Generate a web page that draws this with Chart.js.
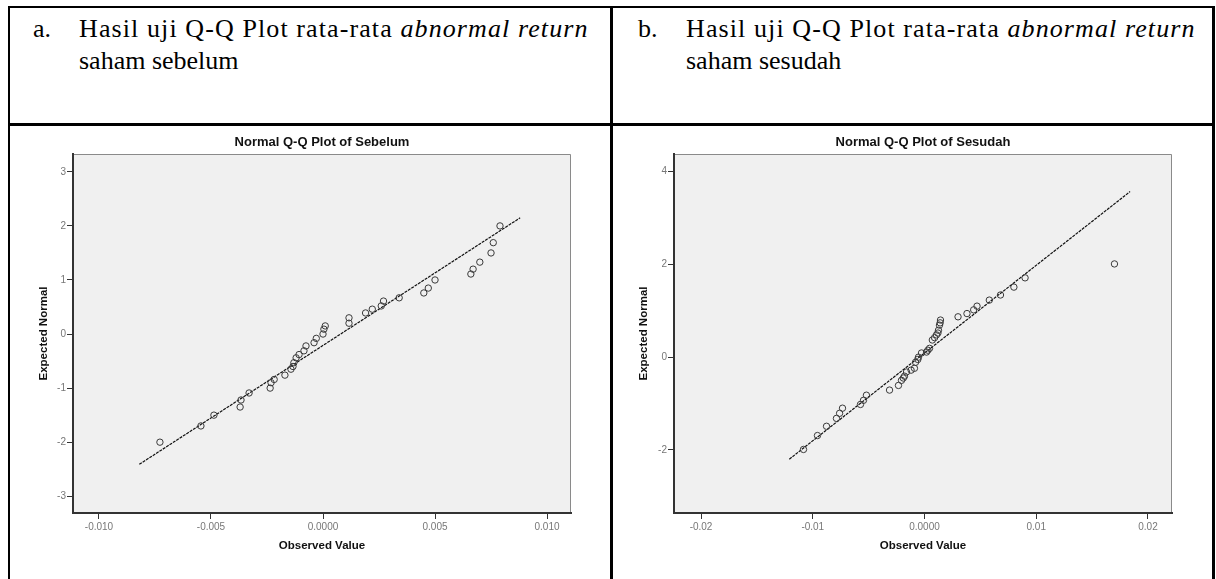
<!DOCTYPE html>
<html>
<head>
<meta charset="utf-8">
<script src="https://cdn.jsdelivr.net/npm/chart.js@4.4.1/dist/chart.umd.min.js"></script>
<style>
  html, body { margin: 0; padding: 0; background: #fff; }
  body { width: 1216px; height: 579px; position: relative; overflow: hidden; font-family: "Liberation Serif", "Times New Roman", serif; }
  .rule { position: absolute; background: #000; }
  .txt { position: absolute; font-size: 26px; line-height: 32px; color: #000; white-space: nowrap; }
  .wide { letter-spacing: 1.1px; }
  .box { position: absolute; }
  canvas { display: block; }
</style>
</head>
<body>
<!-- table rules -->
<div class="rule" style="left:8px;top:6px;width:1207px;height:2px"></div>
<div class="rule" style="left:8px;top:6px;width:2px;height:573px"></div>
<div class="rule" style="left:610px;top:6px;width:3px;height:573px"></div>
<div class="rule" style="left:1212px;top:6px;width:3px;height:573px"></div>
<div class="rule" style="left:8px;top:123px;width:1207px;height:3px"></div>

<div class="txt" style="left:33px;top:13px">a.</div>
<div class="txt wide" style="left:79px;top:13px">Hasil uji Q-Q Plot rata-rata <i>abnormal return</i></div>
<div class="txt" style="left:79px;top:45px">saham sebelum</div>
<div class="txt" style="left:638px;top:13px">b.</div>
<div class="txt wide" style="left:686px;top:13px">Hasil uji Q-Q Plot rata-rata <i>abnormal return</i></div>
<div class="txt" style="left:686px;top:45px">saham sesudah</div>

<div class="box" style="left:11px;top:126px"><canvas id="qqBefore" width="598" height="453"></canvas></div>
<div class="box" style="left:614px;top:126px"><canvas id="qqAfter" width="598" height="453"></canvas></div>

<script>
// Sebelum (before)
const beforeObserved = [-0.00728, -0.00545, -0.00487, -0.0037, -0.00366, -0.0033, -0.00236, -0.00232, -0.00218, -0.0017,
  -0.00143, -0.00134, -0.0013, -0.0012, -0.00107, -0.00085, -0.00076, -0.0004, -0.0003, 0.0, 0.00004, 0.0001,
  0.00116, 0.00116, 0.0019, 0.0022, 0.0026, 0.0027, 0.0034, 0.0045, 0.0047, 0.0050, 0.0066, 0.0067, 0.0070,
  0.0075, 0.0076, 0.0079];
const beforeExpected = [-2.0, -1.70, -1.5, -1.35, -1.22, -1.09, -1.0, -0.9, -0.84, -0.76,
  -0.65, -0.6, -0.53, -0.44, -0.38, -0.31, -0.22, -0.16, -0.08, 0.0, 0.09, 0.15,
  0.20, 0.30, 0.39, 0.46, 0.52, 0.61, 0.67, 0.76, 0.85, 1.0, 1.11, 1.2, 1.33,
  1.5, 1.69, 2.0];
const beforeLineX = [-0.0082, 0.0088];
const beforeLineY = [-2.41, 2.15];
const beforeXTicks = [-0.010, -0.005, 0, 0.005, 0.010];
const beforeXLabels = ['-0.010', '-0.005', '0.0000', '0.005', '0.010'];
const beforeYTicks = [-3, -2, -1, 0, 1, 2, 3];
const beforeYLabels = ['-3', '-2', '-1', '0', '1', '2', '3'];

// Sesudah (after)
const afterObserved = [-0.01083, -0.00958, -0.00877, -0.00788, -0.0076, -0.00734, -0.00573, -0.00546, -0.0052,
  -0.00313, -0.00233, -0.00206, -0.0019, -0.00179, -0.00161, -0.0012, -0.0009, -0.0008, -0.0006, -0.00054,
  -0.00027, 0.00018, 0.0003, 0.00045, 0.0007, 0.0009, 0.00107, 0.0012, 0.00125, 0.00134, 0.0014, 0.00143,
  0.0030, 0.0038, 0.0044, 0.0047, 0.0058, 0.0068, 0.0080, 0.0090, 0.0170];
const afterExpected = [-1.99, -1.69, -1.49, -1.32, -1.21, -1.10, -1.02, -0.93, -0.82,
  -0.71, -0.61, -0.50, -0.45, -0.41, -0.32, -0.28, -0.24, -0.11, -0.05, 0.0,
  0.09, 0.11, 0.15, 0.19, 0.37, 0.42, 0.48, 0.52, 0.58, 0.69, 0.74, 0.80,
  0.87, 0.94, 1.02, 1.10, 1.23, 1.34, 1.51, 1.71, 2.01];
const afterLineX = [-0.0121, 0.0184];
const afterLineY = [-2.20, 3.57];
const afterXTicks = [-0.02, -0.01, 0, 0.01, 0.02];
const afterXLabels = ['-0.02', '-0.01', '0.0000', '0.01', '0.02'];
const afterYTicks = [-2, 0, 2, 4];
const afterYLabels = ['-2', '0', '2', '4'];

const SANS = '"Liberation Sans", Arial, sans-serif';

const plotFrame = {
  id: 'plotFrame',
  beforeDraw(chart) {
    const { ctx, chartArea: a } = chart;
    ctx.save();
    ctx.fillStyle = '#f0f0f0';
    ctx.fillRect(a.left, a.top, a.right - a.left, a.bottom - a.top);
    ctx.strokeStyle = '#8a8a8a';
    ctx.lineWidth = 1;
    ctx.beginPath();
    ctx.moveTo(a.left, a.top + 0.5);
    ctx.lineTo(a.right - 0.5, a.top + 0.5);
    ctx.lineTo(a.right - 0.5, a.bottom);
    ctx.stroke();
    ctx.restore();
  }
};

function qqChart(id, o) {
  new Chart(document.getElementById(id), {
    type: 'scatter',
    data: {
      datasets: [
        {
          data: o.obs.map((x, i) => ({ x: x, y: o.exp[i] })),
          pointStyle: 'circle',
          pointRadius: 3.2,
          pointBorderWidth: 1,
          pointBorderColor: '#3a3a3a',
          pointBackgroundColor: 'rgba(0,0,0,0)'
        },
        {
          data: o.lineX.map((x, i) => ({ x: x, y: o.lineY[i] })),
          showLine: true,
          pointRadius: 0,
          borderColor: '#111',
          borderWidth: 1.2,
          borderDash: [3, 1]
        }
      ]
    },
    options: {
      responsive: false,
      animation: false,
      layout: { padding: { left: 0, right: o.padRight, top: 0, bottom: 0 } },
      plugins: {
        legend: { display: false },
        tooltip: { enabled: false },
        title: {
          display: true,
          text: o.title,
          fullSize: false,
          color: '#111',
          font: { family: SANS, size: 13, weight: 'bold' },
          padding: { top: 8.5, bottom: 3.9 }
        }
      },
      scales: {
        x: {
          type: 'linear',
          min: o.xMin,
          max: o.xMax,
          afterBuildTicks: s => { s.ticks = o.xTicks.map(v => ({ value: v })); },
          afterFit: s => { s.height = 66; },
          ticks: {
            callback: (v, i) => o.xLabels[i],
            autoSkip: false,
            maxRotation: 0,
            padding: 2,
            color: '#777',
            font: { family: SANS, size: 10 }
          },
          grid: { drawOnChartArea: false, drawTicks: true, tickLength: 6, tickColor: '#333', tickWidth: 1 },
          border: { color: '#333', width: 2 },
          title: {
            display: true,
            text: 'Observed Value',
            color: '#111',
            font: { family: SANS, size: 11.5, weight: 'bold' },
            padding: { top: 0, bottom: 26 }
          }
        },
        y: {
          type: 'linear',
          min: o.yMin,
          max: o.yMax,
          afterBuildTicks: s => { s.ticks = o.yTicks.map(v => ({ value: v })); },
          afterFit: s => { s.width = o.yWidth; },
          ticks: {
            callback: (v, i) => o.yLabels[i],
            autoSkip: false,
            padding: 1,
            color: '#777',
            font: { family: SANS, size: 10 }
          },
          grid: { drawOnChartArea: false, drawTicks: true, tickLength: 6, tickColor: '#333', tickWidth: 1 },
          border: { color: '#333', width: 2 },
          title: {
            display: true,
            text: 'Expected Normal',
            color: '#111',
            font: { family: SANS, size: 11.5, weight: 'bold' },
            padding: { top: o.yTitlePad, bottom: 0 }
          }
        }
      }
    },
    plugins: [plotFrame]
  });
}

qqChart('qqBefore', {
  title: 'Normal Q-Q Plot of Sebelum',
  obs: beforeObserved, exp: beforeExpected,
  lineX: beforeLineX, lineY: beforeLineY,
  xMin: -0.01116, xMax: 0.01107, yMin: -3.31, yMax: 3.33,
  xTicks: beforeXTicks, xLabels: beforeXLabels,
  yTicks: beforeYTicks, yLabels: beforeYLabels,
  yWidth: 62, padRight: 38, yTitlePad: 26
});

qqChart('qqAfter', {
  title: 'Normal Q-Q Plot of Sesudah',
  obs: afterObserved, exp: afterExpected,
  lineX: afterLineX, lineY: afterLineY,
  xMin: -0.02242, xMax: 0.02215, yMin: -3.36, yMax: 4.38,
  xTicks: afterXTicks, xLabels: afterXLabels,
  yTicks: afterYTicks, yLabels: afterYLabels,
  yWidth: 60, padRight: 40, yTitlePad: 23
});
</script>
</body>
</html>
